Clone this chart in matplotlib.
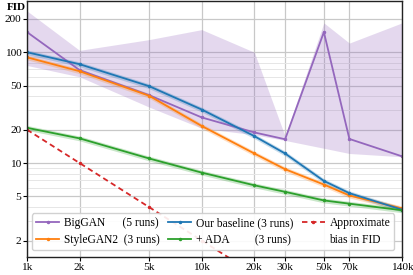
import matplotlib
matplotlib.use("Agg")
import matplotlib.pyplot as plt
from matplotlib.lines import Line2D
import numpy as np
from matplotlib.ticker import FixedLocator, NullFormatter, LogLocator

plt.rcParams['font.family'] = ['Liberation Serif', 'DejaVu Serif']

# data (training set size in images)
sizes = [1000, 2000, 5000, 10000, 20000, 30000, 50000, 70000, 140000]

biggan = [152, 69, 41, 25.8, 18.9, 16.4, 152, 16.5, 11.5]
biggan_hi = [236, 104, 130, 160, 100, 17.5, 184, 121, 184]
biggan_lo = [76, 60, 32, 20.6, 18.0, 16.0, 13.6, 12.2, 11.4]

stylegan2 = [90, 67.4, 40.5, 21.6, 12.2, 8.8, 6.4, 5.1, 3.9]
baseline = [100, 78, 49.4, 30.4, 17.5, 12.2, 6.9, 5.35, 3.8]
ada = [20.8, 16.7, 11.0, 8.2, 6.3, 5.5, 4.6, 4.3, 3.75]

bias_sizes = [1000, 2000, 5000, 10000, 20000]
bias = [20, 10, 4, 2, 1]

xticks = [1000, 2000, 5000, 10000, 20000, 30000, 50000, 70000, 140000]
xticklabels = ['1k', '2k', '5k', '10k', '20k', '30k', '50k', '70k', '140k']
yticks = [2, 5, 10, 20, 50, 100, 200]
yticklabels = ['2', '5', '10', '20', '50', '100', '200']

c_purple = '#9467bd'
c_orange = '#ff7f0e'
c_blue = '#1f77b4'
c_green = '#2ca02c'
c_red = '#d62728'

fig = plt.figure(figsize=(4.13, 2.75), dpi=100)
ax = fig.add_axes([27/413, 1 - 257/275, 375/413, 256/275])
ax.set_xscale('log')
ax.set_yscale('log')

ax.fill_between(sizes, biggan_lo, biggan_hi, color=c_purple, alpha=0.25, lw=0)
for vals, col in [(stylegan2, c_orange), (baseline, c_blue), (ada, c_green)]:
    v = np.array(vals)
    ax.fill_between(sizes, v * 0.95, v * 1.05, color=col, alpha=0.25, lw=0)

ms = 3
h1, = ax.plot(sizes, biggan, color=c_purple, marker='.', ms=ms, lw=1.3)
h2, = ax.plot(sizes, stylegan2, color=c_orange, marker='.', ms=ms, lw=1.3)
h3, = ax.plot(sizes, baseline, color=c_blue, marker='.', ms=ms, lw=1.3)
h4, = ax.plot(sizes, ada, color=c_green, marker='.', ms=ms, lw=1.3)
h5, = ax.plot(bias_sizes, bias, color=c_red, marker='.', ms=ms, lw=1.3, ls=(0, (3, 2)))
h6 = Line2D([], [], color='none')

ax.set_xlim(1000, 140000)
ax.set_ylim(1.42, 290)

ax.xaxis.set_major_locator(FixedLocator(xticks))
ax.set_xticklabels(xticklabels)
ax.xaxis.set_minor_locator(FixedLocator([]))
ax.yaxis.set_major_locator(FixedLocator(yticks))
ax.set_yticklabels(yticklabels)
ax.yaxis.set_minor_locator(LogLocator(base=10, subs=np.arange(2, 10)))
ax.yaxis.set_minor_formatter(NullFormatter())

ax.grid(True, which='major', color='#c8c8c8', lw=0.9)
ax.grid(True, which='minor', axis='y', color='#e6e6e6', lw=0.7)
ax.set_axisbelow(True)
ax.tick_params(axis='both', which='major', labelsize=8.2, length=3, width=0.8, pad=1)
ax.tick_params(axis='y', which='minor', length=0)
for s in ax.spines.values():
    s.set_linewidth(1.0)
    s.set_color('#222222')

ax.text(-0.003, 0.975, 'FID', transform=ax.transAxes, ha='right', va='center',
        fontsize=8, fontweight='bold')

labels = ['BigGAN      (5 runs)', 'StyleGAN2  (3 runs)',
          'Our baseline (3 runs)', '+ ADA         (3 runs)',
          'Approximate', 'bias in FID']
ax.legend([h1, h2, h3, h4, h5, h6], labels, loc='lower left', ncol=3, fontsize=8.3,
          frameon=True, framealpha=0.9, edgecolor='#cccccc', handlelength=2.0,
          handletextpad=0.4, columnspacing=0.75, borderpad=0.35, labelspacing=0.4,
          borderaxespad=0, bbox_to_anchor=(5/375, 7/256))

fig.savefig('out.png', dpi=100)
